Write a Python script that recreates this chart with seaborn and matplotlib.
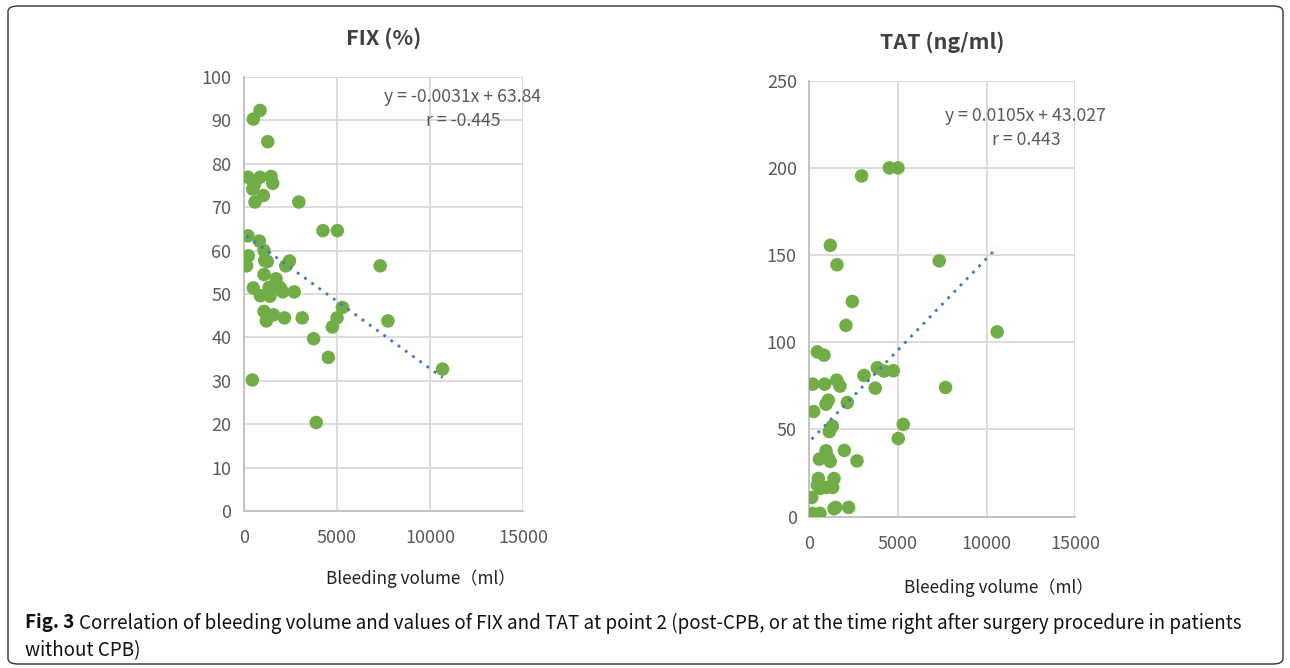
import numpy as np
import pandas as pd
import matplotlib
matplotlib.use("Agg")
import matplotlib.pyplot as plt
import seaborn as sns
from matplotlib.patches import FancyBboxPatch

# ==========================================
# DATA
# ==========================================
FIX_BLEED = [864, 504, 1278, 216, 864, 1458, 1548, 468, 560, 1044, 594, 2952, 4248, 5022,
             216, 828, 234, 144, 1080, 1116, 1260, 2448, 2250, 7326, 1080, 1728, 504, 1350,
             1944, 882, 1404, 2088, 2700, 5292, 1080, 1584, 1206, 2178, 3132, 5004, 4752,
             7740, 3744, 4536, 10674, 450, 3888]
FIX_VALUES = [92.3, 90.3, 85.1, 76.9, 76.9, 77.1, 75.5, 74.2, 75.2, 72.7, 71.2, 71.2, 64.6, 64.6,
              63.4, 62.2, 58.8, 56.5, 60.0, 57.7, 57.5, 57.6, 56.5, 56.5, 54.5, 53.5, 51.4, 51.5,
              51.5, 49.6, 49.5, 50.5, 50.5, 46.9, 46.0, 45.2, 43.8, 44.5, 44.5, 44.5, 42.4,
              43.8, 39.7, 35.4, 32.7, 30.2, 20.4]

TAT_BLEED = [2952, 4512, 5001, 1184, 1560, 7332, 2425, 2068, 10603, 451, 827, 188, 865, 1542,
             1730, 3083, 3835, 4211, 4738, 3722, 7689, 1072, 940, 2143, 244, 1297, 1128, 5302,
             5020, 940, 1974, 564, 1090, 1000, 1180, 2688, 508, 1391, 451, 602, 978, 1316,
             132, 169, 602, 1391, 1485, 2218]
TAT_VALUES = [195.4, 200.0, 200.0, 155.6, 144.5, 146.7, 123.4, 109.7, 106.0, 94.5, 92.6, 76.0, 76.0, 78.3,
              74.9, 81.0, 85.4, 83.5, 83.7, 73.7, 74.1, 66.8, 64.5, 65.5, 60.3, 51.9, 48.8, 52.9,
              44.8, 37.8, 38.0, 33.0, 33.4, 34.4, 31.7, 32.0, 21.9, 21.9, 18.1, 16.2, 16.8, 16.8,
              11.0, 1.9, 1.9, 4.6, 5.3, 5.3]

# trendline coefficients as printed on the chart
FIX_FIT = (-0.0031, 63.84)
TAT_FIT = (0.0105, 43.027)
FIX_LABEL = "y = -0.0031x + 63.84\nr = -0.445"
TAT_LABEL = "y = 0.0105x + 43.027\nr = 0.443"

CAPTION_BOLD = "Fig. 3"
CAPTION_LINE1 = ("Correlation of bleeding volume and values of FIX and TAT at point 2 (post-CPB, "
                 "or at the time right after surgery procedure in patients")
CAPTION_LINE2 = "without CPB)"

GREEN = "#70AD47"
BLUE = "#4472C4"
GRID = "#D9D9D9"
TICK = "#595959"

# ==========================================
# PLOTTING
# ==========================================
sns.set_theme(style="white")
plt.rcParams['font.family'] = ['Noto Sans CJK SC', 'DejaVu Sans']

fig = plt.figure(figsize=(12.9, 6.68), dpi=100)

# rounded frame around the whole figure
frame = FancyBboxPatch((8 / 1290, 4 / 668), 1275 / 1290, 658 / 668,
                       boxstyle="round,pad=0,rounding_size=0.008",
                       transform=fig.transFigure, fill=False,
                       edgecolor="#333333", linewidth=1.0)
fig.patches.append(frame)


def panel(ax, bleed, values, fit, label, title, ymax, ystep, label_xy, xlabel_xy, title_pad):
    df = pd.DataFrame({'bleed': bleed, 'value': values})
    sns.scatterplot(data=df, x='bleed', y='value', ax=ax, color=GREEN,
                    s=95, edgecolor='none', zorder=3)
    xs = np.array([df['bleed'].min(), df['bleed'].max()])
    ax.plot(xs, fit[0] * xs + fit[1], color=BLUE, linestyle=(0, (1, 2.2)),
            linewidth=2.0, zorder=4)
    ax.set_xlim(0, 15000)
    ax.set_ylim(0, ymax)
    ax.set_xticks(np.arange(0, 15001, 5000))
    ax.set_yticks(np.arange(0, ymax + 1, ystep))
    ax.grid(True, color=GRID, linewidth=1.3, zorder=0)
    for side in ['top', 'right']:
        ax.spines[side].set_visible(False)
    for side in ['left', 'bottom']:
        ax.spines[side].set_color("#BFBFBF")
        ax.spines[side].set_linewidth(1.3)
    ax.tick_params(axis='both', length=0, labelsize=13, labelcolor=TICK)
    ax.tick_params(axis='x', pad=13)
    ax.tick_params(axis='y', pad=9)
    ax.set_title(title, fontsize=15.5, fontweight='bold', color="#404040", pad=title_pad)
    ax.set_xlabel("Bleeding volume（ml）", fontsize=12.3, color="#222222")
    ax.xaxis.set_label_coords(*xlabel_xy)
    ax.set_ylabel("")
    ax.text(label_xy[0], label_xy[1], label, transform=ax.transAxes, ha='center', va='top',
            fontsize=12.7, color=TICK, linespacing=1.45)


ax1 = fig.add_axes([0.1891, 0.2350, 0.2163, 0.6497])
panel(ax1, FIX_BLEED, FIX_VALUES, FIX_FIT, FIX_LABEL, "FIX (%)", 100, 10,
      (0.785, 0.975), (0.634, -0.135), 23)

ax2 = fig.add_axes([0.6274, 0.2265, 0.2060, 0.6527])
panel(ax2, TAT_BLEED, TAT_VALUES, TAT_FIT, TAT_LABEL, "TAT (ng/ml)", 250, 50,
      (0.815, 0.94), (0.714, -0.142), 23)

# caption: bold "Fig. 3" followed by regular text
cap_font = ['Noto Sans CJK SC', 'DejaVu Sans']
cap_size = 13.5
fig.canvas.draw()
renderer = fig.canvas.get_renderer()
t_bold = fig.text(25 / 1290, 1 - 623 / 668, CAPTION_BOLD, fontsize=cap_size, fontweight='bold',
                  family=cap_font, va='center', ha='left', color="#111111")
bb = t_bold.get_window_extent(renderer=renderer)
fig.text((bb.x1 + 5) / 1290, 1 - 623 / 668, CAPTION_LINE1,
         fontsize=cap_size, family=cap_font, va='center', ha='left', color="#111111")
fig.text(25 / 1290, 1 - 651 / 668, CAPTION_LINE2, fontsize=cap_size, family=cap_font,
         va='center', ha='left', color="#111111")

fig.savefig("out.png", dpi=100)
